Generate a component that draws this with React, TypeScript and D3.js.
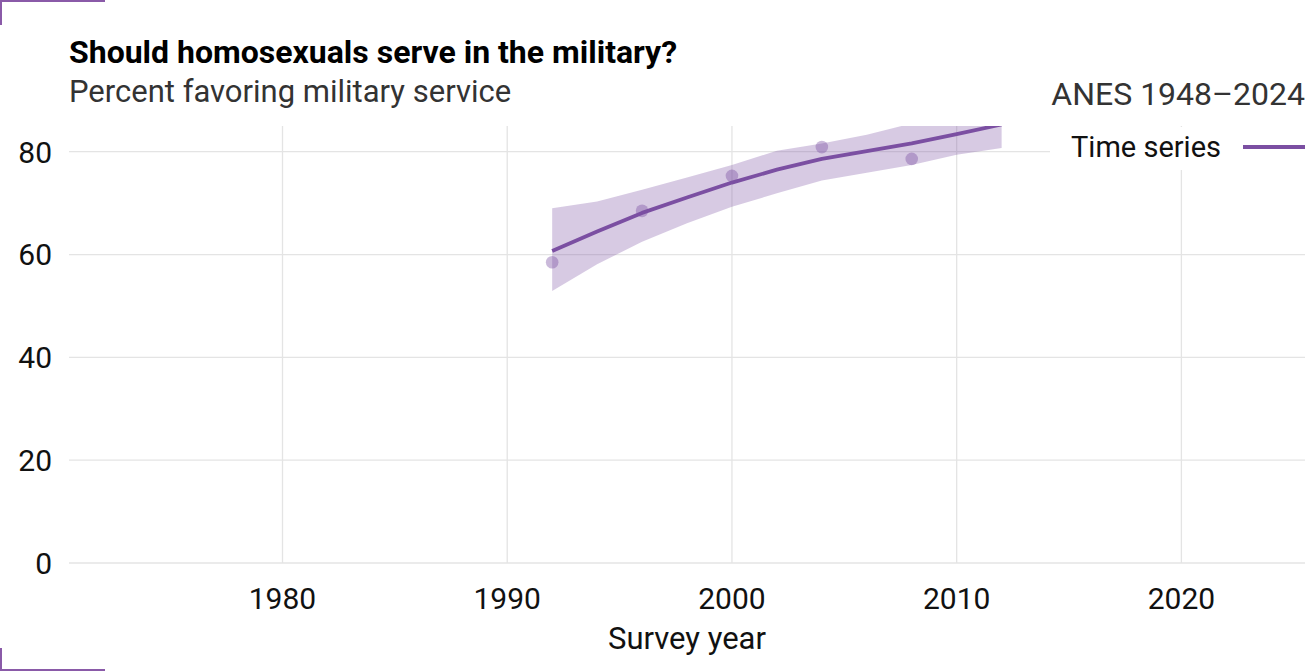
import React, { useEffect, useRef } from 'react';
import * as d3 from 'd3';

// survey points (ANES)
const surveyYears = [1992, 1996, 2000, 2004, 2008];
const surveyValues = [58.5, 68.5, 75.3, 80.9, 78.6];

// smoothed trend with interval
const trendYears = [1992, 1994, 1996, 1998, 2000, 2002, 2004, 2006, 2008, 2010, 2012];
const trendValues = [60.7, 64.5, 68.1, 71.1, 74.0, 76.5, 78.6, 80.1, 81.6, 83.4, 85.3];
const trendLower = [52.9, 58.1, 62.5, 66.1, 69.3, 71.9, 74.4, 75.9, 77.4, 79.4, 80.7];
const trendUpper = [69.0, 70.3, 72.6, 75.0, 77.4, 80.2, 81.6, 83.3, 85.5, 87.5, 89.5];

const xTicks = [1980, 1990, 2000, 2010, 2020];
const yTicks = [0, 20, 40, 60, 80];

const PURPLE = '#7b4fa2';
const FONT = 'Roboto, "Noto Sans", sans-serif';

export default function App() {
  const ref = useRef<SVGSVGElement | null>(null);

  useEffect(() => {
    document.body.style.margin = '0';
    if (!ref.current) return;
    const svg = d3.select(ref.current);
    svg.selectAll('*').remove();

    const width = 1305;
    const height = 671;
    const plot = { left: 69, right: 1305, top: 126, bottom: 563 };

    const x = d3.scaleLinear().domain([1970.5, 2025.5]).range([plot.left, plot.right]);
    const y = d3.scaleLinear().domain([0, 85]).range([plot.bottom, plot.top]);

    svg.append('rect').attr('width', width).attr('height', height).attr('fill', '#fff');

    svg.append('defs').append('clipPath').attr('id', 'plot-clip')
      .append('rect')
      .attr('x', plot.left).attr('y', plot.top)
      .attr('width', plot.right - plot.left).attr('height', plot.bottom - plot.top);

    // grid
    svg.append('g').selectAll('line').data(yTicks).enter().append('line')
      .attr('x1', plot.left).attr('x2', plot.right)
      .attr('y1', d => y(d)).attr('y2', d => y(d))
      .attr('stroke', '#e4e4e4').attr('stroke-width', 1.3);
    svg.append('g').selectAll('line').data(xTicks).enter().append('line')
      .attr('x1', d => x(d)).attr('x2', d => x(d))
      .attr('y1', plot.top).attr('y2', plot.bottom)
      .attr('stroke', '#e4e4e4').attr('stroke-width', 1.3);

    // axis labels
    svg.append('g').selectAll('text').data(yTicks).enter().append('text')
      .attr('x', 52).attr('y', d => y(d)).attr('dy', '0.36em')
      .attr('text-anchor', 'end')
      .style('font-family', FONT).style('font-size', '30px').attr('fill', '#111')
      .text(d => d);
    svg.append('g').selectAll('text').data(xTicks).enter().append('text')
      .attr('x', d => x(d)).attr('y', 609)
      .attr('text-anchor', 'middle')
      .style('font-family', FONT).style('font-size', '30px').attr('fill', '#111')
      .text(d => d);
    svg.append('text').attr('x', (plot.left + plot.right) / 2).attr('y', 649)
      .attr('text-anchor', 'middle')
      .style('font-family', FONT).style('font-size', '31px').attr('fill', '#111')
      .text('Survey year');

    const g = svg.append('g').attr('clip-path', 'url(#plot-clip)');

    const band = d3.area<number>()
      .x((d, i) => x(trendYears[i]))
      .y0((d, i) => y(trendLower[i]))
      .y1((d, i) => y(trendUpper[i]));
    g.append('path').datum(trendValues).attr('d', band)
      .attr('fill', PURPLE).attr('fill-opacity', 0.3);

    g.selectAll('circle').data(surveyValues).enter().append('circle')
      .attr('cx', (d, i) => x(surveyYears[i])).attr('cy', d => y(d))
      .attr('r', 6.3).attr('fill', PURPLE).attr('fill-opacity', 0.4);

    const line = d3.line<number>()
      .x((d, i) => x(trendYears[i]))
      .y(d => y(d));
    g.append('path').datum(trendValues).attr('d', line)
      .attr('fill', 'none').attr('stroke', PURPLE).attr('stroke-width', 3.8)
      .attr('stroke-linejoin', 'round');

    // legend
    svg.append('rect').attr('x', 1050).attr('y', 127).attr('width', 255).attr('height', 43).attr('fill', '#fff');
    svg.append('text').attr('x', 1221).attr('y', 147).attr('dy', '0.36em')
      .attr('text-anchor', 'end')
      .style('font-family', FONT).style('font-size', '29px').attr('fill', '#111')
      .text('Time series');
    svg.append('line').attr('x1', 1243).attr('x2', 1305).attr('y1', 147).attr('y2', 147)
      .attr('stroke', PURPLE).attr('stroke-width', 3.8);

    // titles
    svg.append('text').attr('x', 69).attr('y', 63)
      .style('font-family', FONT).style('font-size', '32px').style('font-weight', 700).attr('fill', '#000')
      .text('Should homosexuals serve in the military?');
    svg.append('text').attr('x', 69).attr('y', 102)
      .style('font-family', FONT).style('font-size', '31px').attr('fill', '#333')
      .text('Percent favoring military service');
    svg.append('text').attr('x', 1305).attr('y', 105)
      .attr('text-anchor', 'end')
      .style('font-family', FONT).style('font-size', '32px').attr('fill', '#333')
      .text('ANES 1948–2024');

    // corner marks
    const corner = d3.path();
    corner.moveTo(1, 25); corner.lineTo(1, 1); corner.lineTo(105, 1);
    corner.moveTo(1, 648); corner.lineTo(1, 670); corner.lineTo(105, 670);
    svg.append('path').attr('d', corner.toString())
      .attr('fill', 'none').attr('stroke', '#8a5aa8').attr('stroke-width', 2);
  }, []);

  return <svg ref={ref} width={1305} height={671} style={{ display: 'block' }} />;
}
